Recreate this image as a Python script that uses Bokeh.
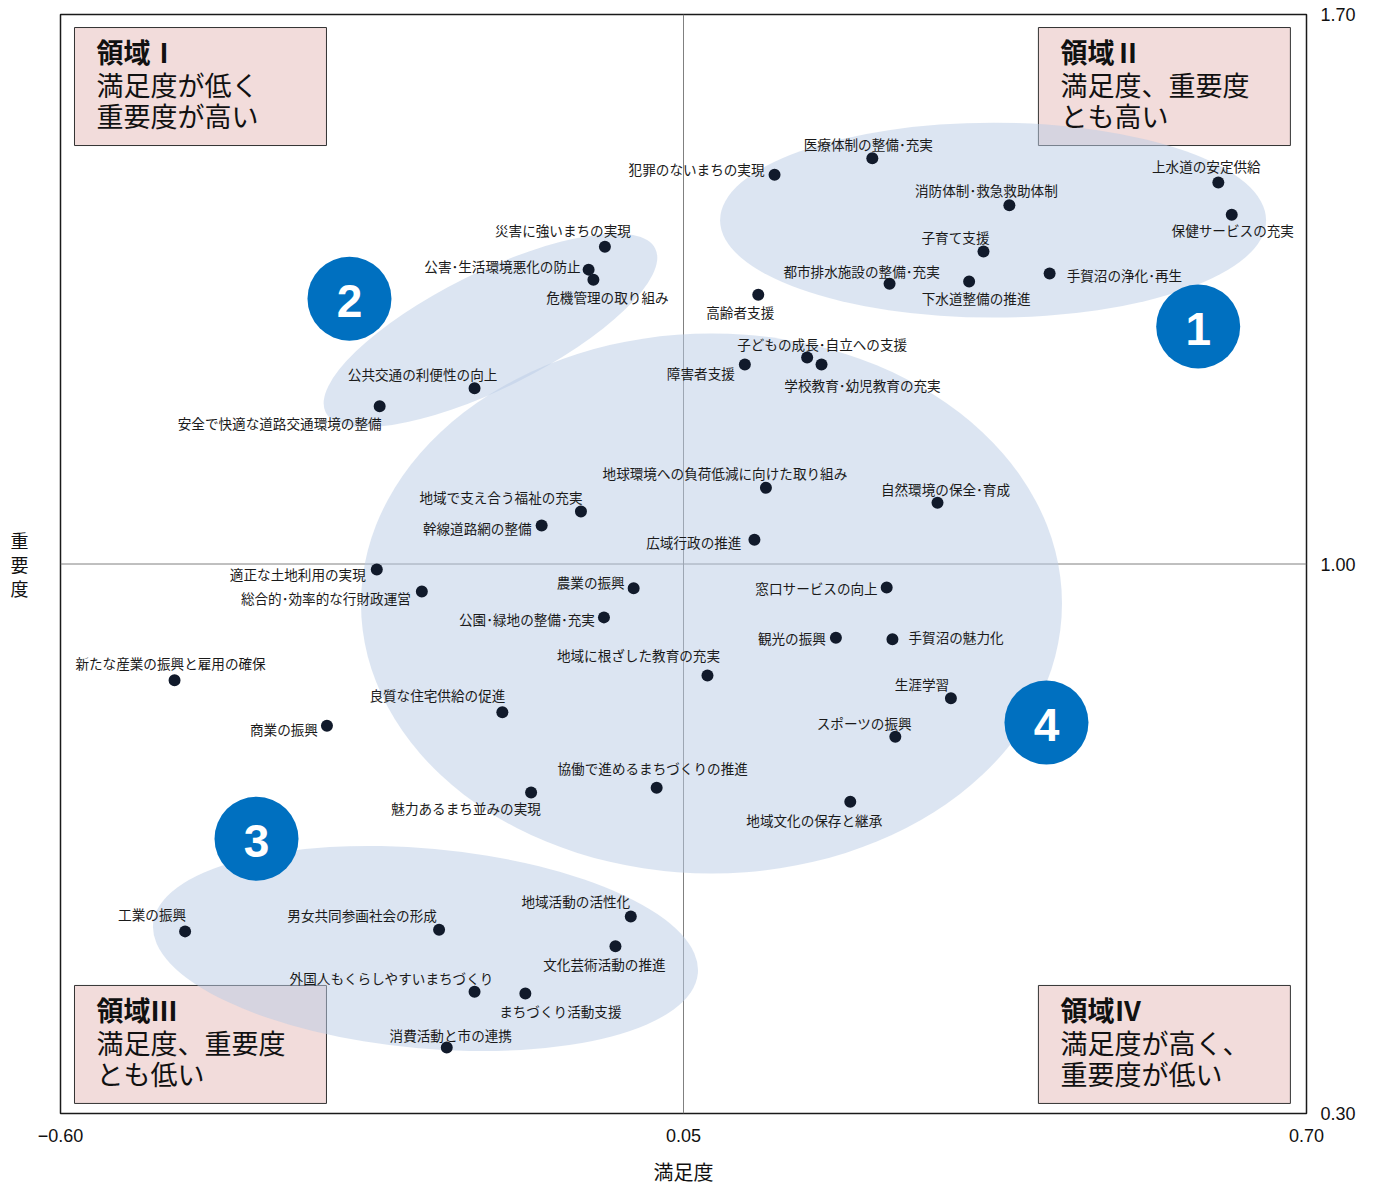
import math
from bokeh.plotting import figure
from bokeh.models import (ColumnDataSource, Span, LinearAxis, FixedTicker,
                          Range1d, PrintfTickFormatter)
from bokeh.embed import file_html
from bokeh.resources import INLINE
from bokeh.core.properties import value

# ---------------- data ----------------
names = [
    "医療体制の整備･充実", "犯罪のないまちの実現", "上水道の安定供給", "消防体制･救急救助体制",
    "保健サービスの充実", "子育て支援", "手賀沼の浄化･再生", "下水道整備の推進",
    "都市排水施設の整備･充実", "高齢者支援", "災害に強いまちの実現", "公害･生活環境悪化の防止",
    "危機管理の取り組み", "公共交通の利便性の向上", "安全で快適な道路交通環境の整備",
    "子どもの成長･自立への支援", "学校教育･幼児教育の充実", "障害者支援",
    "地球環境への負荷低減に向けた取り組み", "自然環境の保全･育成", "地域で支え合う福祉の充実",
    "幹線道路網の整備", "広域行政の推進", "適正な土地利用の実現", "総合的･効率的な行財政運営",
    "農業の振興", "窓口サービスの向上", "公園･緑地の整備･充実", "観光の振興", "手賀沼の魅力化",
    "新たな産業の振興と雇用の確保", "地域に根ざした教育の充実", "生涯学習", "良質な住宅供給の促進",
    "商業の振興", "スポーツの振興", "協働で進めるまちづくりの推進", "魅力あるまち並みの実現",
    "地域文化の保存と継承", "地域活動の活性化", "工業の振興", "男女共同参画社会の形成",
    "文化芸術活動の推進", "外国人もくらしやすいまちづくり", "まちづくり活動支援", "消費活動と市の連携",
]
satisfaction = [
    0.247, 0.145, 0.608, 0.390,
    0.622, 0.363, 0.432, 0.348,
    0.265, 0.128, -0.032, -0.049,
    -0.044, -0.168, -0.267,
    0.179, 0.194, 0.114,
    0.136, 0.315, -0.057,
    -0.098, 0.124, -0.270, -0.223,
    -0.002, 0.262, -0.033, 0.209, 0.268,
    -0.481, 0.075, 0.329, -0.139,
    -0.322, 0.271, 0.022, -0.109,
    0.224, -0.005, -0.470, -0.205,
    -0.021, -0.168, -0.115, -0.197,
]
importance = [
    1.517, 1.496, 1.486, 1.457,
    1.445, 1.398, 1.370, 1.360,
    1.357, 1.343, 1.404, 1.375,
    1.362, 1.224, 1.201,
    1.263, 1.254, 1.254,
    1.097, 1.078, 1.067,
    1.049, 1.031, 0.993, 0.965,
    0.969, 0.970, 0.932, 0.906, 0.904,
    0.852, 0.858, 0.829, 0.811,
    0.794, 0.780, 0.715, 0.709,
    0.697, 0.551, 0.532, 0.534,
    0.513, 0.455, 0.453, 0.384,
]

# label placement (alignment, dx, dy in screen px; dy positive = down)
label_place = [
    ("center", -4, -14), ("right", -10, -6), ("center", -12, -16), ("center", -23, -15),
    ("center", 1, 15), ("center", -28, -15), ("left", 17, 1), ("center", 7, 17),
    ("center", -28, -13), ("center", -18, 17), ("center", -42, -17), ("right", -8, -4),
    ("center", 14, 17), ("center", -52, -14), ("center", -100, 17),
    ("center", 15, -14), ("center", 41, 20), ("right", -10, 8),
    ("center", -41, -15), ("center", 8, -14), ("center", -80, -14),
    ("right", -10, 2), ("right", -13, 2), ("right", -11, 5), ("right", -11, 7),
    ("right", -9, -6), ("right", -9, 0), ("right", -9, 2), ("right", -10, 0), ("left", 16, -2),
    ("center", -4, -17), ("center", -69, -20), ("center", -29, -14), ("center", -65, -17),
    ("right", -9, 3), ("center", -31, -14), ("center", -4, -20), ("center", -65, 16),
    ("center", -36, 18), ("center", -55, -15), ("center", -33, -17), ("center", -77, -15),
    ("center", -11, 18), ("center", -83, -14), ("center", 35, 18), ("center", 4, -13),
]

x_ticks = [-0.60, 0.05, 0.70]
y_ticks = [0.30, 1.00, 1.70]

region_titles = ["領域Ⅰ", "領域Ⅱ", "領域Ⅲ", "領域Ⅳ"]
region_line1 = ["満足度が低く", "満足度、重要度", "満足度、重要度", "満足度が高く、"]
region_line2 = ["重要度が高い", "とも高い", "とも低い", "重要度が低い"]
box_left = [-0.5854, 0.4203, -0.5854, 0.4203]
box_top = [1.6834, 1.6834, 0.4631, 0.4631]
box_w = 0.2629
box_h = 0.1503

group_labels = ["1", "2", "3", "4"]
group_x = [0.587, -0.2985, -0.3955, 0.4287]
group_y = [1.3025, 1.338, 0.650, 0.798]

ell_x = [0.373, -0.1514, -0.2192, 0.0792]
ell_y = [1.438, 1.2975, 0.5102, 0.9497]
ell_w = [546, 368, 547, 701]
ell_h = [195, 116, 200, 540]
ell_angle_deg = [0, 26.4, -5.2, 0]

# ---------------- figure ----------------
p = figure(frame_width=1246, frame_height=1099,
           x_range=Range1d(-0.60, 0.70), y_range=Range1d(0.30, 1.70),
           output_backend="svg", toolbar_location=None,
           x_axis_location=None, y_axis_location=None,
           min_border_left=60, min_border_top=14, min_border_right=62, min_border_bottom=70)
p.grid.visible = False
p.outline_line_color = "#1a1a1a"
p.outline_line_width = 1.5
p.background_fill_color = "white"
p.border_fill_color = "white"

xaxis = LinearAxis(ticker=FixedTicker(ticks=x_ticks),
                   formatter=PrintfTickFormatter(format="%.2f"))
xaxis.major_label_overrides = {-0.6: "−0.60"}
xaxis.axis_line_color = None
xaxis.major_tick_line_color = None
xaxis.minor_tick_line_color = None
xaxis.major_tick_out = 0
xaxis.major_label_standoff = 15
xaxis.major_label_text_font = "Liberation Sans"
xaxis.major_label_text_font_size = "18px"
xaxis.major_label_text_color = "#111111"
xaxis.axis_label = "満足度"
xaxis.axis_label_text_font = "Noto Sans CJK JP"
xaxis.axis_label_text_font_size = "20px"
xaxis.axis_label_text_font_style = "normal"
xaxis.axis_label_text_color = "#111111"
xaxis.axis_label_standoff = 12
p.add_layout(xaxis, "below")

yaxis = LinearAxis(ticker=FixedTicker(ticks=y_ticks),
                   formatter=PrintfTickFormatter(format="%.2f"))
yaxis.axis_line_color = None
yaxis.major_tick_line_color = None
yaxis.minor_tick_line_color = None
yaxis.major_tick_out = 0
yaxis.major_label_standoff = 14
yaxis.major_label_text_font = "Liberation Sans"
yaxis.major_label_text_font_size = "18px"
yaxis.major_label_text_color = "#111111"
p.add_layout(yaxis, "right")

# left axis carrying only the vertical title
ltitle = LinearAxis(ticker=FixedTicker(ticks=[]))
ltitle.axis_line_color = None
ltitle.major_tick_line_color = None
ltitle.minor_tick_line_color = None
ltitle.major_tick_out = 0
ltitle.major_tick_in = 0
ltitle.major_label_standoff = 0
ltitle.axis_label = "重\n要\n度"
ltitle.axis_label_text_font = "Noto Sans CJK JP"
ltitle.axis_label_text_font_size = "18px"
ltitle.axis_label_text_font_style = "normal"
ltitle.axis_label_text_color = "#111111"
ltitle.axis_label_text_line_height = 0.92
ltitle.axis_label_standoff = 32
try:
    ltitle.axis_label_orientation = "horizontal"
except Exception:
    pass
p.add_layout(ltitle, "left")

p.add_layout(Span(location=0.05, dimension="height", line_color="#808080",
                  line_width=1, level="underlay"))
p.add_layout(Span(location=1.00, dimension="width", line_color="#808080",
                  line_width=1, level="underlay"))

# region boxes
box_src = ColumnDataSource(dict(
    left=box_left, right=[b + box_w for b in box_left],
    top=box_top, bottom=[t - box_h for t in box_top]))
p.quad(left="left", right="right", top="top", bottom="bottom", source=box_src,
       fill_color="#f2dcdb", line_color="#333333", line_width=1)

# group ellipses
p.ellipse(x=ell_x, y=ell_y, width=ell_w, height=ell_h,
          angle=[math.radians(a) for a in ell_angle_deg],
          width_units="screen", height_units="screen",
          fill_color="#b9cbe5", fill_alpha=0.5, line_color=None)

# box texts
p.text(x=box_left, y=box_top, text=region_titles, x_offset=22, y_offset=24,
       text_font=value("Noto Sans CJK JP"), text_font_size="27px", text_font_style="bold",
       text_color="#111111", text_align="left", text_baseline="middle")
p.text(x=box_left, y=box_top, text=region_line1, x_offset=22, y_offset=57,
       text_font=value("Noto Sans CJK JP"), text_font_size="27px",
       text_color="#111111", text_align="left", text_baseline="middle")
p.text(x=box_left, y=box_top, text=region_line2, x_offset=22, y_offset=88,
       text_font=value("Noto Sans CJK JP"), text_font_size="27px",
       text_color="#111111", text_align="left", text_baseline="middle")

# points
p.scatter(x=satisfaction, y=importance, size=12, fill_color="#111a2b", line_color=None)

# point labels grouped by alignment
for al in ("left", "center", "right"):
    idx = [i for i, lp in enumerate(label_place) if lp[0] == al]
    src = ColumnDataSource(dict(
        x=[satisfaction[i] for i in idx], y=[importance[i] for i in idx],
        t=[names[i] for i in idx],
        dx=[label_place[i][1] for i in idx], dy=[label_place[i][2] for i in idx]))
    p.text(x="x", y="y", text="t", x_offset="dx", y_offset="dy", source=src,
           text_font=value("Noto Sans CJK JP"), text_font_size="13.6px",
           text_color="#1a1a1a", text_align=al, text_baseline="middle")

# group badges
p.scatter(x=group_x, y=group_y, size=84, fill_color="#0070c0", line_color=None)
p.text(x=group_x, y=group_y, text=group_labels, y_offset=2,
       text_font=value("Liberation Sans"), text_font_size="46px", text_font_style="bold",
       text_color="white", text_align="center", text_baseline="middle")

open("out.html", "w").write(file_html(p, INLINE))
